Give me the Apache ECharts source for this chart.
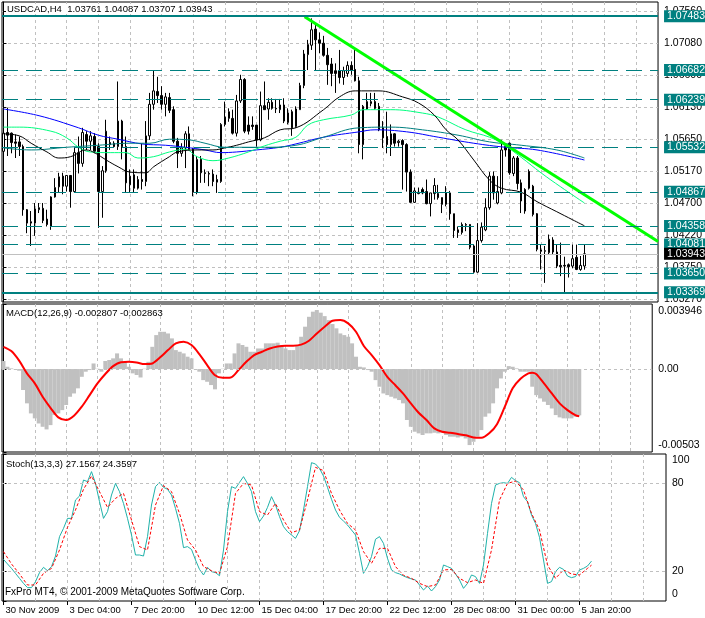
<!DOCTYPE html>
<html><head><meta charset="utf-8">
<script src="https://cdn.jsdelivr.net/npm/echarts@6/dist/echarts.min.js"></script>
<style>html,body{margin:0;padding:0;background:#fff}#c{width:705px;height:618px}</style>
</head><body><div id="c"></div>
<script>
// ---------- data ----------
const headerText = 'USDCAD,H4  1.03761 1.04087 1.03707 1.03943';
const macdText = 'MACD(12,26,9) -0.002807 -0.002863';
const stochText = 'Stoch(13,3,3) 27.1567 24.3597';
const footerText = 'FxPro MT4, \u00a9 2001-2009 MetaQuotes Software Corp.';

const timeLabels = ['30 Nov 2009','3 Dec 04:00','7 Dec 20:00','10 Dec 12:00','15 Dec 04:00','17 Dec 20:00','22 Dec 12:00','28 Dec 08:00','31 Dec 00:00','5 Jan 20:00'];
const labelBars = [0,16,32,48,64,80,96,112,128,144];
const gridBars = [8,16,24,32,40,48,56,64,72,80,88,96,104,112,120,128,136,144,152,160];

const priceTicks = [1.0327,1.0375,1.0422,1.0470,1.0517,1.0565,1.0613,1.0660,1.0708,1.0756];
const levelsSolid = [1.07483, 1.03369];
const levelsDashed = [1.06682, 1.06239, 1.05532, 1.04867, 1.04358, 1.04081, 1.03650];
const bidPrice = 1.03943;

// [open, close, low, high]
const ohlc = [
[1.0547,1.0574,1.0544,1.0592],[1.0575,1.0571,1.0540,1.0612],[1.0574,1.0560,1.0544,1.0575],[1.0561,1.0559,1.0537,1.0572],[1.0561,1.0554,1.0540,1.0569],
[1.0554,1.0460,1.0451,1.0557],[1.0460,1.0440,1.0425,1.0461],[1.0442,1.0440,1.0406,1.0458],[1.0440,1.0461,1.0421,1.0470],[1.0460,1.0463,1.0455,1.0470],
[1.0462,1.0444,1.0440,1.0470],[1.0446,1.0438,1.0435,1.0460],[1.0435,1.0479,1.0430,1.0480],[1.0479,1.0493,1.0478,1.0507],[1.0494,1.0509,1.0485,1.0515],
[1.0510,1.0495,1.0483,1.0515],[1.0495,1.0511,1.0487,1.0511],[1.0511,1.0487,1.0463,1.0511],[1.0487,1.0545,1.0486,1.0552],[1.0545,1.0529,1.0514,1.0569],
[1.0529,1.0575,1.0524,1.0582],[1.0572,1.0562,1.0549,1.0577],[1.0562,1.0570,1.0549,1.0577],[1.0569,1.0547,1.0544,1.0574],[1.0554,1.0487,1.0433,1.0559],
[1.0487,1.0518,1.0448,1.0525],[1.0518,1.0577,1.0515,1.0594],[1.0560,1.0557,1.0549,1.0569],[1.0559,1.0554,1.0552,1.0562],[1.0554,1.0592,1.0549,1.0651],
[1.0592,1.0554,1.0535,1.0594],[1.0554,1.0500,1.0485,1.0569],[1.0497,1.0510,1.0485,1.0520],[1.0512,1.0492,1.0485,1.0520],[1.0492,1.0505,1.0490,1.0510],
[1.0505,1.0502,1.0490,1.0559],[1.0502,1.0570,1.0495,1.0592],[1.0570,1.0617,1.0564,1.0634],[1.0617,1.0637,1.0609,1.0668],[1.0636,1.0630,1.0619,1.0658],
[1.0630,1.0617,1.0609,1.0644],[1.0617,1.0628,1.0599,1.0634],[1.0627,1.0608,1.0604,1.0634],[1.0609,1.0562,1.0559,1.0614],[1.0562,1.0544,1.0522,1.0567],
[1.0544,1.0552,1.0539,1.0559],[1.0552,1.0573,1.0522,1.0577],[1.0573,1.0550,1.0549,1.0584],[1.0550,1.0486,1.0480,1.0552],[1.0486,1.0535,1.0483,1.0540],
[1.0535,1.0515,1.0500,1.0540],[1.0515,1.0514,1.0500,1.0520],[1.0514,1.0513,1.0495,1.0517],[1.0513,1.0502,1.0495,1.0520],[1.0501,1.0505,1.0485,1.0512],
[1.0502,1.0587,1.0500,1.0589],[1.0587,1.0598,1.0584,1.0621],[1.0596,1.0606,1.0591,1.0611],[1.0596,1.0574,1.0572,1.0609],[1.0574,1.0622,1.0569,1.0631],
[1.0622,1.0654,1.0619,1.0661],[1.0654,1.0577,1.0574,1.0656],[1.0586,1.0577,1.0572,1.0599],[1.0586,1.0584,1.0579,1.0599],[1.0586,1.0564,1.0554,1.0586],
[1.0564,1.0615,1.0562,1.0636],[1.0615,1.0609,1.0609,1.0651],[1.0610,1.0620,1.0594,1.0626],[1.0620,1.0611,1.0609,1.0626],[1.0611,1.0610,1.0604,1.0625],
[1.0609,1.0616,1.0604,1.0625],[1.0616,1.0592,1.0589,1.0626],[1.0590,1.0604,1.0587,1.0611],[1.0606,1.0582,1.0570,1.0609],[1.0584,1.0610,1.0582,1.0614],
[1.0609,1.0645,1.0609,1.0649],[1.0645,1.0692,1.0641,1.0698],[1.0691,1.0706,1.0668,1.0713],[1.0705,1.0728,1.0698,1.0745],[1.0729,1.0713,1.0668,1.0737],
[1.0713,1.0708,1.0693,1.0724],[1.0708,1.0690,1.0688,1.0719],[1.0690,1.0676,1.0646,1.0701],[1.0677,1.0663,1.0644,1.0686],[1.0667,1.0663,1.0634,1.0678],
[1.0667,1.0657,1.0648,1.0698],[1.0657,1.0667,1.0646,1.0673],[1.0663,1.0675,1.0658,1.0681],[1.0675,1.0668,1.0661,1.0681],[1.0669,1.0652,1.0651,1.0698],
[1.0652,1.0557,1.0544,1.0658],[1.0557,1.0614,1.0535,1.0616],[1.0610,1.0621,1.0609,1.0634],[1.0618,1.0621,1.0614,1.0634],[1.0621,1.0611,1.0609,1.0634],
[1.0614,1.0579,1.0577,1.0619],[1.0582,1.0567,1.0552,1.0592],[1.0569,1.0557,1.0544,1.0606],[1.0557,1.0573,1.0540,1.0587],[1.0573,1.0559,1.0554,1.0574],
[1.0560,1.0562,1.0554,1.0564],[1.0563,1.0557,1.0490,1.0565],[1.0557,1.0516,1.0487,1.0559],[1.0516,1.0471,1.0470,1.0520],[1.0471,1.0488,1.0470,1.0493],
[1.0484,1.0486,1.0483,1.0493],[1.0490,1.0485,1.0483,1.0493],[1.0487,1.0469,1.0468,1.0505],[1.0469,1.0485,1.0450,1.0485],[1.0484,1.0496,1.0475,1.0507],
[1.0484,1.0478,1.0475,1.0497],[1.0478,1.0468,1.0455,1.0478],[1.0468,1.0485,1.0465,1.0495],[1.0485,1.0454,1.0445,1.0488],[1.0454,1.0429,1.0418,1.0454],
[1.0430,1.0426,1.0418,1.0435],[1.0426,1.0438,1.0423,1.0441],[1.0437,1.0438,1.0428,1.0440],[1.0438,1.0404,1.0401,1.0438],[1.0406,1.0367,1.0366,1.0408],
[1.0367,1.0414,1.0366,1.0440],[1.0414,1.0434,1.0411,1.0441],[1.0430,1.0463,1.0428,1.0477],[1.0463,1.0510,1.0460,1.0516],[1.0510,1.0485,1.0475,1.0517],
[1.0470,1.0487,1.0468,1.0510],[1.0485,1.0549,1.0483,1.0564],[1.0554,1.0549,1.0539,1.0559],[1.0559,1.0515,1.0512,1.0560],[1.0514,1.0537,1.0510,1.0540],
[1.0537,1.0499,1.0490,1.0540],[1.0500,1.0473,1.0455,1.0505],[1.0490,1.0458,1.0454,1.0492],[1.0517,1.0492,1.0490,1.0520],[1.0495,1.0453,1.0450,1.0497],
[1.0454,1.0401,1.0398,1.0455],[1.0400,1.0398,1.0371,1.0408],[1.0398,1.0399,1.0351,1.0406],[1.0396,1.0416,1.0393,1.0423],[1.0415,1.0397,1.0393,1.0419],
[1.0397,1.0376,1.0373,1.0408],[1.0377,1.0375,1.0361,1.0411],[1.0377,1.0376,1.0336,1.0390],[1.0378,1.0375,1.0359,1.0380],[1.0376,1.0387,1.0373,1.0408],
[1.0389,1.0371,1.0370,1.0408],[1.0371,1.0377,1.0369,1.0391],[1.03761,1.03943,1.03707,1.04087]
];

// moving averages [bar, price]
const maBlack = [[0,1.0573],[4,1.0570],[7,1.0559],[11,1.0546],[14,1.0537],[17,1.0539],[21,1.0549],[23,1.0545],[26,1.0534],[29,1.0524],[32,1.0516],[36,1.0515],[38,1.0524],[42,1.0539],[44,1.0546],[49,1.0549],[53,1.0549],[56,1.0552],[59,1.0556],[62,1.0561],[66,1.0567],[70,1.0579],[74,1.0582],[81,1.0609],[85,1.0628],[89,1.0637],[95,1.0637],[101,1.0628],[105,1.0619],[109,1.0601],[112,1.0579],[115,1.0564],[119,1.0534],[123,1.0504],[126,1.0492],[131,1.0486],[135,1.0472],[140,1.0457],[144,1.0445],[147,1.0436]];
const maSpring = [[0,1.0583],[4,1.0583],[12,1.0577],[16,1.0567],[19,1.0553],[22,1.0546],[27,1.0545],[31,1.0545],[34,1.0537],[38,1.0539],[42,1.0546],[46,1.0550],[49,1.0539],[53,1.0533],[57,1.0537],[62,1.0546],[66,1.0555],[70,1.0562],[74,1.0568],[77,1.0586],[81,1.0594],[88,1.0601],[91,1.0609],[98,1.0609],[106,1.0604],[110,1.0598],[117,1.0579],[123,1.0568],[126,1.0559],[131,1.0538],[136,1.0515],[141,1.0494],[147,1.0470]];
const maTeal = [[0,1.0552],[7,1.0549],[16,1.0553],[24,1.0556],[32,1.0559],[37,1.0559],[42,1.0565],[47,1.0564],[51,1.0559],[56,1.0553],[61,1.0553],[66,1.0553],[74,1.0556],[81,1.0568],[90,1.0582],[98,1.0583],[106,1.0579],[115,1.0571],[123,1.0561],[131,1.0556],[140,1.0549],[147,1.0537]];
const maBlue = [[0,1.0610],[9,1.0600],[19,1.0582],[24,1.0571],[29,1.0565],[35,1.0558],[41,1.0556],[46,1.0553],[51,1.0549],[55,1.0545],[59,1.0546],[64,1.0549],[70,1.0553],[74,1.0558],[81,1.0568],[90,1.0576],[94,1.0579],[102,1.0576],[110,1.0568],[119,1.0559],[127,1.0553],[135,1.0549],[147,1.0534]];
const trendLine = [[76.2,1.07475],[165.625,1.04126]];

// MACD
const macdMin = -0.00503, macdMax = 0.003946;
const macdHist = [
0.00049,0.00014,0.00004,-0.00002,-0.0001,-0.00127,-0.00208,-0.00269,-0.00299,-0.0033,
-0.0035,-0.00366,-0.0034,-0.00279,-0.00269,-0.00249,-0.00218,-0.00168,-0.00148,-0.00117,
-0.00047,-0.00016,-0.00006,0.00034,0.00002,-0.00016,0.00049,0.00055,0.00065,0.00095,
0.00065,0.00044,0.00014,-0.00026,-0.00036,-0.00051,0.00002,0.00044,0.00135,0.00206,
0.00226,0.00226,0.00216,0.00186,0.00115,0.00105,0.00095,0.00075,0.00065,-0.00002,
-0.00016,-0.00067,-0.00077,-0.00097,-0.00123,-0.00026,0.00002,0.00034,0.00034,0.00095,
0.00156,0.00146,0.00135,0.00105,0.00105,0.00125,0.00125,0.00156,0.00156,0.00156,
0.0016,0.00146,0.00125,0.00115,0.00115,0.00146,0.00196,0.00257,0.00317,0.00348,
0.00358,0.00342,0.00321,0.00297,0.00273,0.00247,0.00216,0.00206,0.00196,0.00156,
0.00075,0.00014,0.0001,-0.00006,-0.00016,-0.00067,-0.00107,-0.00148,-0.00158,-0.00168,
-0.00178,-0.00188,-0.00208,-0.00309,-0.0035,-0.0038,-0.0039,-0.004,-0.0039,-0.0039,
-0.00386,-0.0039,-0.00386,-0.004,-0.0041,-0.0041,-0.00415,-0.0041,-0.00421,-0.00461,
-0.00441,-0.0041,-0.0037,-0.00289,-0.00269,-0.00208,-0.00117,-0.00057,-0.00016,0.00018,
0.00014,0.00004,-0.00016,-0.00016,-0.00016,-0.00107,-0.00158,-0.00178,-0.00198,-0.00218,
-0.00239,-0.00279,-0.00293,-0.00299,-0.00299,-0.00299,-0.00289,-0.002807
];
const macdSignal = [[0,0.00135],[2,0.00109],[4,0.00051],[6,-0.00026],[8,-0.00087],[10,-0.00168],[12,-0.00235],[14,-0.00293],[16,-0.00309],[18,-0.00283],[20,-0.00228],[22,-0.00158],[24,-0.00087],[26,-0.0003],[28,0.00018],[30,0.00042],[32,0.00044],[34,0.0004],[36,0.0003],[38,0.00034],[40,0.00071],[42,0.00115],[44,0.00156],[46,0.00166],[48,0.00146],[50,0.00091],[52,0.00024],[54,-0.00038],[56,-0.00053],[58,-0.00051],[60,-0.00006],[62,0.00044],[64,0.00085],[66,0.00105],[68,0.00125],[70,0.00137],[72,0.00142],[74,0.00142],[76,0.00148],[78,0.00172],[80,0.00216],[82,0.00257],[84,0.00293],[86,0.00297],[88,0.00277],[90,0.00226],[92,0.0014],[94,0.00085],[96,0.00024],[98,-0.00047],[100,-0.00097],[102,-0.00148],[104,-0.00208],[106,-0.00265],[108,-0.00309],[110,-0.0036],[112,-0.0038],[114,-0.00386],[116,-0.00394],[118,-0.00402],[120,-0.00415],[122,-0.00417],[124,-0.0039],[126,-0.00334],[128,-0.00228],[130,-0.00117],[132,-0.00059],[134,-0.00026],[135,-0.00022],[136,-0.0003],[138,-0.00087],[140,-0.00148],[142,-0.00208],[144,-0.00249],[146,-0.00279],[147,-0.002863]];

// Stochastic
const stochMain = [
28.3,25.2,22.2,18.8,15.4,12.0,9.1,9.1,13.2,19.3,
22.9,20.6,23.4,30.6,43.8,49.4,56.2,56.2,68.7,71.4,
82.3,81.2,88.0,80.0,67.6,56.2,60.8,72.1,80.0,74.4,
66.4,56.2,44.9,31.3,31.3,30.6,43.8,65.3,77.8,80.7,
77.3,76.0,72.1,63.0,52.8,36.3,37.0,35.1,27.9,21.5,
17.7,22.9,20.0,19.3,17.2,34.7,60.8,77.8,76.6,80.7,
84.6,80.0,74.4,60.8,54.0,57.8,63.7,71.0,65.3,57.4,
50.6,47.2,44.9,42.6,47.8,61.9,77.8,94.1,93.2,90.2,
85.0,77.3,69.2,61.9,56.9,54.4,51.7,48.3,44.9,32.4,
18.8,23.4,30.2,42.0,43.8,39.2,29.0,21.1,19.3,18.4,
17.0,15.9,15.0,14.3,10.9,7.5,10.2,6.8,9.8,14.3,
24.5,23.4,22.2,18.4,14.3,8.6,12.0,17.7,16.6,12.0,
24.5,46.0,66.4,78.9,80.0,80.5,80.0,84.1,81.9,80.5,
71.0,67.6,58.5,52.8,43.3,27.9,12.0,13.2,20.0,22.9,
21.5,17.0,15.9,16.6,21.1,22.2,23.8,27.1567
];
const stochSignal = [[0,33.6],[2,25.2],[4,18.4],[6,10.9],[8,10.9],[10,18.8],[12,22.2],[14,34.7],[16,50.1],[18,61.9],[20,76.0],[22,85.0],[24,74.4],[26,63.7],[28,69.8],[30,73.2],[32,55.1],[34,37.0],[36,34.7],[38,65.3],[40,78.5],[42,74.4],[44,59.6],[46,41.5],[48,34.7],[50,23.4],[52,20.6],[54,18.8],[56,37.0],[58,73.2],[60,80.0],[62,78.9],[64,60.8],[66,58.5],[68,66.4],[70,55.1],[72,46.5],[74,48.3],[76,68.7],[78,90.9],[80,88.7],[82,73.2],[84,61.9],[86,52.8],[88,48.3],[90,33.6],[92,25.6],[94,35.8],[96,35.8],[98,23.4],[100,17.5],[102,15.4],[104,12.0],[106,9.8],[108,10.9],[110,21.1],[112,21.5],[114,15.4],[116,12.5],[118,14.3],[120,12.0],[122,34.7],[124,68.7],[126,80.0],[128,81.6],[130,75.5],[132,59.6],[134,48.3],[136,24.5],[138,15.4],[140,21.1],[142,18.4],[144,17.7],[146,22.2],[147,24.3597]];
const stochTicks = [0,20,80,100];
const stochLevels = [20,80];

// ---------- chart ----------
const FONT = "'Liberation Sans', Arial, sans-serif";
const NARROW = "'Liberation Sans Narrow', 'Arial Narrow', 'Liberation Sans', sans-serif";
const YFS = 10.5;
const X_MIN = -0.375, X_MAX = 165.625;
const TEAL = '#008080';
const GRIDC = '#c0c0c0';

const chart = echarts.init(document.getElementById('c'), null, {renderer: 'canvas'});

function xAx(gi) {
  return {type: 'value', gridIndex: gi, min: X_MIN, max: X_MAX,
    axisLine: {show: false}, axisLabel: {show: false},
    axisTick: {show: false, customValues: gridBars},
    splitLine: {show: true, lineStyle: {color: GRIDC, type: [3, 3], width: 1}}};
}
function txt(text, left, top, size, bg) {
  return {text, left, top, padding: bg ? [0, 2, 0, 1] : 0, backgroundColor: bg || 'transparent',
    textStyle: {fontFamily: FONT, fontSize: size, fontWeight: 'normal', color: '#000'}};
}
function levelItem(v, solid) {
  return {yAxis: v,
    lineStyle: {color: TEAL, width: solid ? 2 : 1, type: solid ? 'solid' : [16, 8]},
    label: {show: true, position: 'end', distance: 6, formatter: v.toFixed(5), color: '#fff',
      backgroundColor: TEAL, padding: [1, 4, 0, 3], fontFamily: NARROW, fontSize: YFS}};
}
const yLab = {color: '#000', fontFamily: NARROW, fontSize: YFS, margin: 6};

const levelMarks = levelsSolid.map(v => levelItem(v, true))
  .concat(levelsDashed.map(v => levelItem(v, false)))
  .concat([{yAxis: bidPrice, lineStyle: {color: GRIDC, width: 1, type: 'solid'},
    label: {show: true, position: 'end', distance: 6, formatter: bidPrice.toFixed(5), color: '#fff',
      backgroundColor: '#000', padding: [1, 4, 0, 3], fontFamily: NARROW, fontSize: YFS}}]);

const option = {
  animation: false,
  backgroundColor: '#fff',
  title: [
    txt(headerText, 6, 4, 9.5, '#fff'),
    txt(macdText, 6, 308, 9.5),
    txt(stochText, 6, 459, 9.5),
    txt(footerText, 5, 587, 10)
  ],
  grid: [
    {left: 2, top: 2, width: 664, height: 300, show: true, borderColor: '#000', borderWidth: 1, backgroundColor: 'transparent'},
    {left: 2, top: 304, width: 664, height: 148, show: true, borderColor: '#000', borderWidth: 1, backgroundColor: 'transparent'},
    {left: 2, top: 454, width: 664, height: 147, show: true, borderColor: '#000', borderWidth: 1, backgroundColor: 'transparent'}
  ],
  xAxis: [
    xAx(0), xAx(1), xAx(2),
    {type: 'value', gridIndex: 2, min: X_MIN, max: X_MAX, position: 'bottom',
      axisLine: {show: false}, splitLine: {show: false},
      axisTick: {show: true, length: 4, customValues: labelBars, lineStyle: {color: '#000'}},
      axisLabel: {show: true, customValues: labelBars, align: 'left', margin: 4, padding: [0, 0, 0, 2],
        color: '#000', fontFamily: FONT, fontSize: 9.5,
        formatter: v => timeLabels[labelBars.indexOf(Math.round(v))] || ''}}
  ],
  yAxis: [
    {type: 'value', gridIndex: 0, position: 'right', min: 1.03225, max: 1.07694,
      axisLine: {show: true, lineStyle: {color: '#000'}},
      axisTick: {show: true, length: 3, customValues: priceTicks, lineStyle: {color: '#000'}},
      axisLabel: Object.assign({customValues: priceTicks, formatter: v => v.toFixed(5)}, yLab),
      splitLine: {show: true, lineStyle: {color: GRIDC, type: [3, 3]}}},
    {type: 'value', gridIndex: 1, position: 'right', min: macdMin, max: macdMax,
      axisLine: {show: true, lineStyle: {color: '#000'}},
      axisTick: {show: true, length: 3, customValues: [macdMin, 0, macdMax], lineStyle: {color: '#000'}},
      axisLabel: Object.assign({customValues: [macdMin, 0, macdMax],
        formatter: v => v === 0 ? '0.00' : (v > 0 ? '{t|' + v + '}' : '{b|' + v + '}'),
        rich: {t: {padding: [14, 0, 0, 0], fontFamily: NARROW, fontSize: YFS}, b: {padding: [0, 0, 13, 0], fontFamily: NARROW, fontSize: YFS}}}, yLab),
      splitLine: {show: false}},
    {type: 'value', gridIndex: 2, position: 'right', min: 0, max: 100,
      axisLine: {show: true, lineStyle: {color: '#000'}},
      axisTick: {show: true, length: 3, customValues: stochTicks, lineStyle: {color: '#000'}},
      axisLabel: Object.assign({customValues: stochTicks,
        formatter: v => v === 100 ? '{t|100}' : (v === 0 ? '{b|0}' : String(v)),
        rich: {t: {padding: [13, 0, 0, 0], fontFamily: NARROW, fontSize: YFS}, b: {padding: [0, 0, 13, 0], fontFamily: NARROW, fontSize: YFS}}}, yLab),
      splitLine: {show: false}}
  ],
  series: [
    {type: 'line', name: 'levels', xAxisIndex: 0, yAxisIndex: 0, data: [], showSymbol: false, silent: true,
      markLine: {symbol: 'none', silent: true, animation: false, precision: 5, data: levelMarks}},
    {type: 'line', name: 'maBlue', xAxisIndex: 0, yAxisIndex: 0, data: maBlue, showSymbol: false, smooth: 0.4,
      lineStyle: {color: '#0000ff', width: 1}, silent: true},
    {type: 'line', name: 'maTeal', xAxisIndex: 0, yAxisIndex: 0, data: maTeal, showSymbol: false, smooth: 0.4,
      lineStyle: {color: '#008080', width: 1}, silent: true},
    {type: 'line', name: 'maSpring', xAxisIndex: 0, yAxisIndex: 0, data: maSpring, showSymbol: false, smooth: 0.4,
      lineStyle: {color: '#00ff7f', width: 1}, silent: true},
    {type: 'line', name: 'maBlack', xAxisIndex: 0, yAxisIndex: 0, data: maBlack, showSymbol: false, smooth: 0.4,
      lineStyle: {color: '#000', width: 1}, silent: true},
    {type: 'candlestick', xAxisIndex: 0, yAxisIndex: 0, barWidth: 2,
      data: ohlc.map((c, i) => [i, c[0], c[1], c[2], c[3]]),
      encode: {x: 0, y: [1, 2, 3, 4]},
      itemStyle: {color: '#fff', color0: '#000', borderColor: '#000', borderColor0: '#000', borderWidth: 1},
      silent: true},
    {type: 'line', name: 'trend', xAxisIndex: 0, yAxisIndex: 0, data: trendLine, showSymbol: false,
      lineStyle: {color: '#00ff00', width: 3}, silent: true},
    {type: 'bar', xAxisIndex: 1, yAxisIndex: 1, barWidth: 4, data: macdHist.map((v, i) => [i, v]),
      itemStyle: {color: '#c0c0c0'}, silent: true,
      markLine: {symbol: 'none', silent: true, label: {show: false}, precision: 6,
        lineStyle: {color: GRIDC, type: [3, 3], width: 1}, data: [{yAxis: 0}]}},
    {type: 'line', xAxisIndex: 1, yAxisIndex: 1, data: macdSignal, showSymbol: false, smooth: 0.3,
      lineStyle: {color: '#ff0000', width: 2}, silent: true},
    {type: 'line', xAxisIndex: 2, yAxisIndex: 2, data: stochMain.map((v, i) => [i, v]), showSymbol: false,
      lineStyle: {color: '#20b2aa', width: 1}, silent: true,
      markLine: {symbol: 'none', silent: true, label: {show: false},
        lineStyle: {color: GRIDC, type: [3, 3], width: 1}, data: stochLevels.map(v => ({yAxis: v}))}},
    {type: 'line', xAxisIndex: 2, yAxisIndex: 2, data: stochSignal, showSymbol: false,
      lineStyle: {color: '#ff0000', width: 1, type: [3, 2]}, silent: true}
  ]
};
chart.setOption(option);
</script></body></html>
